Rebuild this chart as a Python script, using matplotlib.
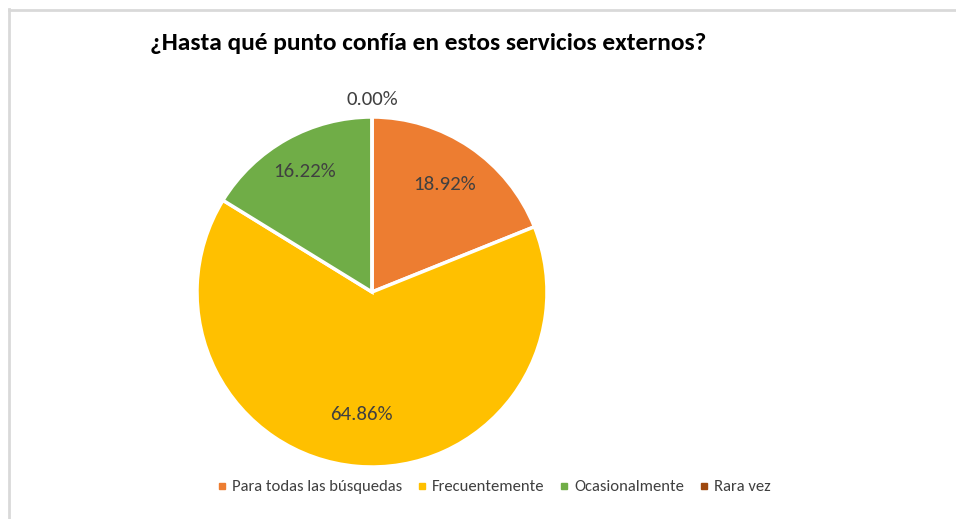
import numpy as np
import matplotlib.pyplot as plt
from matplotlib.lines import Line2D

categories = ["Para todas las búsquedas", "Frecuentemente", "Ocasionalmente", "Rara vez"]
values = [18.92, 64.86, 16.22, 0.00]
colors = ["#ED7D31", "#FFC000", "#70AD47", "#9E480E"]
label_dist = [0.74, 0.70, 0.79, 1.10]

plt.rcParams["font.family"] = ["Carlito", "Liberation Sans", "DejaVu Sans"]

W, H = 956, 519
fig = plt.figure(figsize=(W / 100, H / 100), dpi=100)

# light frame, only top and left visible
fig.add_artist(Line2D([9 / W, 9 / W], [0, 1 - 9 / H], color="#d9d9d9", lw=2))
fig.add_artist(Line2D([9 / W, 1], [1 - 10 / H, 1 - 10 / H], color="#d9d9d9", lw=2))

cx, cy, r = 372, 292, 175
ax = fig.add_axes([(cx - r) / W, (H - cy - r) / H, 2 * r / W, 2 * r / H])
wedges, _ = ax.pie(values, colors=colors, startangle=90, counterclock=False,
                   wedgeprops=dict(edgecolor="white", linewidth=2.5))
ax.set_xlim(-1, 1)
ax.set_ylim(-1, 1)
ax.set_aspect("equal")
ax.axis("off")

for w, v, d in zip(wedges, values, label_dist):
    ang = np.deg2rad((w.theta1 + w.theta2) / 2)
    ax.text(d * np.cos(ang), d * np.sin(ang), f"{v:.2f}%", ha="center", va="center",
            fontsize=15, color="#404040", clip_on=False)

fig.text(428 / W, 1 - 43 / H, "¿Hasta qué punto confía en estos servicios externos?",
         ha="center", va="center", fontsize=18.3, fontweight="bold", color="black")

handles = [Line2D([], [], marker="s", ls="", color=c, markersize=4) for c in colors]
fig.legend(handles, categories, loc="center", bbox_to_anchor=(492 / W, 1 - 487 / H),
           ncol=4, frameon=False, fontsize=12, handletextpad=0.1, columnspacing=0.7,
           handlelength=1.0, labelcolor="#404040")

fig.savefig("out.png", dpi=100)
